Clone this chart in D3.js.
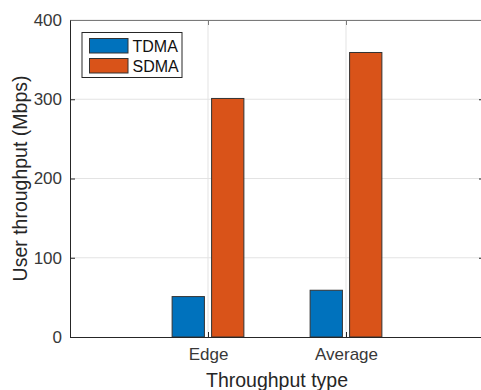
<!DOCTYPE html>
<html>
<head>
<meta charset="utf-8">
<script src="https://cdn.jsdelivr.net/npm/d3@7"></script>
<style>
  html, body { margin: 0; padding: 0; background: #fff; }
  svg { display: block; font-family: "Liberation Sans", Arial, Helvetica, sans-serif; }
</style>
</head>
<body>
<svg id="chart" width="481" height="390"></svg>
<script>
// ---- data ----
const categories = ["Edge", "Average"];
const seriesNames = ["TDMA", "SDMA"];
const tdmaValues = [51, 59];
const sdmaValues = [301, 359];
const yTicks = [0, 100, 200, 300, 400];
const xLabel = "Throughput type";
const yLabel = "User throughput (Mbps)";
const colors = ["#0072BD", "#D95319"];

const seriesValues = [tdmaValues, sdmaValues];

const svg = d3.select("#chart");
const mLeft = 70, mRight = 484, mTop = 20, mBottom = 337;

const x = d3.scaleLinear().domain([0, categories.length + 1]).range([mLeft, mRight]);
const y = d3.scaleLinear().domain([0, 400]).range([mBottom, mTop]);
const inner = d3.scaleBand().domain(seriesNames).range([-0.26, 0.26]).paddingInner(0.182);
const unit = x(1) - x(0);

// grid
const grid = svg.append("g");
grid.selectAll("line.h").data(yTicks.slice(1)).enter().append("line")
  .attr("x1", mLeft).attr("x2", mRight).attr("y1", d => y(d)).attr("y2", d => y(d))
  .attr("stroke", "#e3e3e3").attr("stroke-width", 1);
grid.selectAll("line.v").data(categories).enter().append("line")
  .attr("x1", (d, i) => x(i + 1)).attr("x2", (d, i) => x(i + 1))
  .attr("y1", mTop).attr("y2", mBottom)
  .attr("stroke", "#e3e3e3").attr("stroke-width", 1);

// bars
seriesNames.forEach((s, si) => {
  svg.append("g").selectAll("rect").data(seriesValues[si]).enter().append("rect")
    .attr("x", (d, i) => x(i + 1) + inner(s) * unit)
    .attr("width", inner.bandwidth() * unit)
    .attr("y", d => y(d))
    .attr("height", d => y(0) - y(d))
    .attr("fill", colors[si])
    .attr("stroke", "#333")
    .attr("stroke-width", 1);
});

// axes
const axisColor = "#262626";
const tickFont = 17;
const yAxis = d3.axisLeft(y).tickValues(yTicks).tickSizeInner(-5).tickSizeOuter(0).tickPadding(8);
const gy = svg.append("g").attr("transform", `translate(${mLeft},0)`).call(yAxis);
gy.select(".domain").attr("stroke", axisColor);
gy.selectAll(".tick line").attr("stroke", axisColor);
gy.selectAll(".tick text").attr("font-size", tickFont).attr("fill", "#383838")
  .attr("font-family", "'Liberation Sans', Arial, sans-serif");

const yAxisR = d3.axisRight(y).tickValues(yTicks).tickSizeInner(-5).tickSizeOuter(0).tickFormat("");
const gyr = svg.append("g").attr("transform", `translate(${mRight},0)`).call(yAxisR);
gyr.select(".domain").attr("stroke", axisColor);
gyr.selectAll(".tick line").attr("stroke", axisColor);

const xAxis = d3.axisBottom(x).tickValues(categories.map((c, i) => i + 1))
  .tickFormat((d) => categories[d - 1]).tickSizeInner(-5).tickSizeOuter(0).tickPadding(11);
const gx = svg.append("g").attr("transform", `translate(0,${mBottom})`).call(xAxis);
gx.select(".domain").attr("stroke", axisColor);
gx.selectAll(".tick line").attr("stroke", axisColor);
gx.selectAll(".tick text").attr("font-size", tickFont).attr("fill", "#383838")
  .attr("font-family", "'Liberation Sans', Arial, sans-serif");

const xAxisT = d3.axisTop(x).tickValues(categories.map((c, i) => i + 1))
  .tickFormat("").tickSizeInner(-5).tickSizeOuter(0);
const gxt = svg.append("g").attr("transform", `translate(0,${mTop})`).call(xAxisT);
gxt.select(".domain").attr("stroke", "#7a7a7a");
gxt.selectAll(".tick line").attr("stroke", "#7a7a7a");

// axis labels
svg.append("text").attr("x", (mLeft + mRight) / 2).attr("y", 387)
  .attr("text-anchor", "middle").attr("font-size", 19.5).attr("fill", "#262626").text(xLabel);
svg.append("text").attr("transform", `translate(27,${(mTop + mBottom) / 2}) rotate(-90)`)
  .attr("text-anchor", "middle").attr("font-size", 19.5).attr("fill", "#262626").text(yLabel);

// legend
const lg = svg.append("g");
lg.append("rect").attr("x", 82).attr("y", 32.5).attr("width", 100).attr("height", 45)
  .attr("fill", "#fff").attr("stroke", "#262626").attr("stroke-width", 1);
seriesNames.forEach((s, i) => {
  lg.append("rect").attr("x", 89.5).attr("y", 38.5 + i * 20).attr("width", 38.5).attr("height", 14.5)
    .attr("fill", colors[i]).attr("stroke", "#333").attr("stroke-width", 1);
  lg.append("text").attr("x", 132.5).attr("y", 51.5 + i * 20).attr("font-size", 16)
    .attr("fill", "#111").text(s);
});
</script>
</body>
</html>
